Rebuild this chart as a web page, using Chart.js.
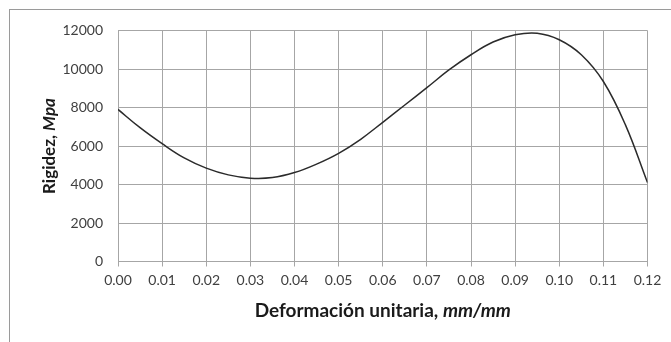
<!DOCTYPE html>
<html>
<head>
<meta charset="utf-8">
<title>Rigidez vs deformación</title>
<script src="https://cdn.jsdelivr.net/npm/chart.js@4.4.0/dist/chart.umd.min.js"></script>
<style>
  html, body { margin: 0; padding: 0; background: #fff; overflow: hidden; }
</style>
</head>
<body>
<canvas id="rigidezChart" width="671" height="342"></canvas>
<script>
// Deformación unitaria (mm/mm)
const deformacion = [0, 0.005, 0.01, 0.015, 0.02, 0.025, 0.03, 0.035, 0.04, 0.045, 0.05, 0.055, 0.06,
  0.065, 0.07, 0.075, 0.08, 0.085, 0.09, 0.095, 0.10, 0.105, 0.11, 0.115, 0.12];
// Rigidez (Mpa)
const rigidez = [7900, 6950, 6120, 5380, 4850, 4500, 4330, 4360, 4620, 5060, 5620, 6350, 7230,
  8130, 9030, 9950, 10740, 11400, 11780, 11860, 11520, 10740, 9350, 7100, 4100];

const xTicks = [0, 0.01, 0.02, 0.03, 0.04, 0.05, 0.06, 0.07, 0.08, 0.09, 0.10, 0.11, 0.12];
const yTicks = [0, 2000, 4000, 6000, 8000, 10000, 12000];

const gridColor = "#a6a6a6";
const textColor = "#404040";
const fontFamily = "Lato, 'Open Sans', sans-serif";

// draws text made of pieces with different styles, centred on (cx, cy)
function drawRichText(ctx, parts, cx, cy, angle) {
  ctx.save();
  ctx.translate(cx, cy);
  ctx.rotate(angle);
  ctx.textBaseline = "middle";
  ctx.textAlign = "left";
  ctx.fillStyle = "#1a1a1a";
  let total = 0;
  parts.forEach(p => { ctx.font = p.font; total += ctx.measureText(p.text).width; });
  let x = -total / 2;
  parts.forEach(p => {
    ctx.font = p.font;
    ctx.fillText(p.text, x, 0);
    x += ctx.measureText(p.text).width;
  });
  ctx.restore();
}

const frameAndTitles = {
  id: "frameAndTitles",
  beforeDraw(chart) {
    const ctx = chart.ctx;
    ctx.save();
    ctx.strokeStyle = "#9a9a9a";
    ctx.lineWidth = 1;
    ctx.strokeRect(9.5, 9.5, 700, 400);
    ctx.restore();
  },
  afterDraw(chart) {
    const ctx = chart.ctx;
    const area = chart.chartArea;
    drawRichText(ctx, [
      { text: "Deformación unitaria, ", font: "bold 19px " + fontFamily },
      { text: "mm/mm", font: "italic bold 19px " + fontFamily }
    ], (area.left + area.right) / 2, 311, 0);
    drawRichText(ctx, [
      { text: "Rigidez, ", font: "bold 17px " + fontFamily },
      { text: "Mpa", font: "italic bold 17px " + fontFamily }
    ], 50, (area.top + area.bottom) / 2, -Math.PI / 2);
  }
};

const ctx = document.getElementById("rigidezChart").getContext("2d");

new Chart(ctx, {
  type: "line",
  data: {
    datasets: [{
      label: "Rigidez",
      data: deformacion.map((d, i) => ({ x: d, y: rigidez[i] })),
      borderColor: "#2b2b2b",
      borderWidth: 1.5,
      pointRadius: 0,
      fill: false,
      tension: 0.4
    }]
  },
  options: {
    responsive: false,
    animation: false,
    layout: { padding: { left: 0, right: 23.5, top: 30.5, bottom: 0 } },
    plugins: {
      legend: { display: false },
      tooltip: { enabled: false }
    },
    scales: {
      x: {
        type: "linear",
        min: 0,
        max: 0.12,
        afterBuildTicks: s => { s.ticks = xTicks.map(v => ({ value: v })); },
        afterFit: s => { s.height = 80.5; },
        grid: { color: gridColor, lineWidth: 1, drawTicks: true, tickLength: 5 },
        border: { color: gridColor },
        ticks: {
          padding: 6,
          color: textColor,
          font: { family: fontFamily, size: 14 },
          maxRotation: 0,
          callback: v => Number(v).toFixed(2)
        }
      },
      y: {
        min: 0,
        max: 12000,
        afterBuildTicks: s => { s.ticks = yTicks.map(v => ({ value: v })); },
        afterFit: s => { s.width = 118; },
        grid: { color: gridColor, lineWidth: 1, drawTicks: false },
        border: { color: gridColor },
        ticks: {
          padding: 15,
          color: textColor,
          font: { family: fontFamily, size: 14 },
          callback: v => String(v)
        }
      }
    }
  },
  plugins: [frameAndTitles]
});
</script>
</body>
</html>
